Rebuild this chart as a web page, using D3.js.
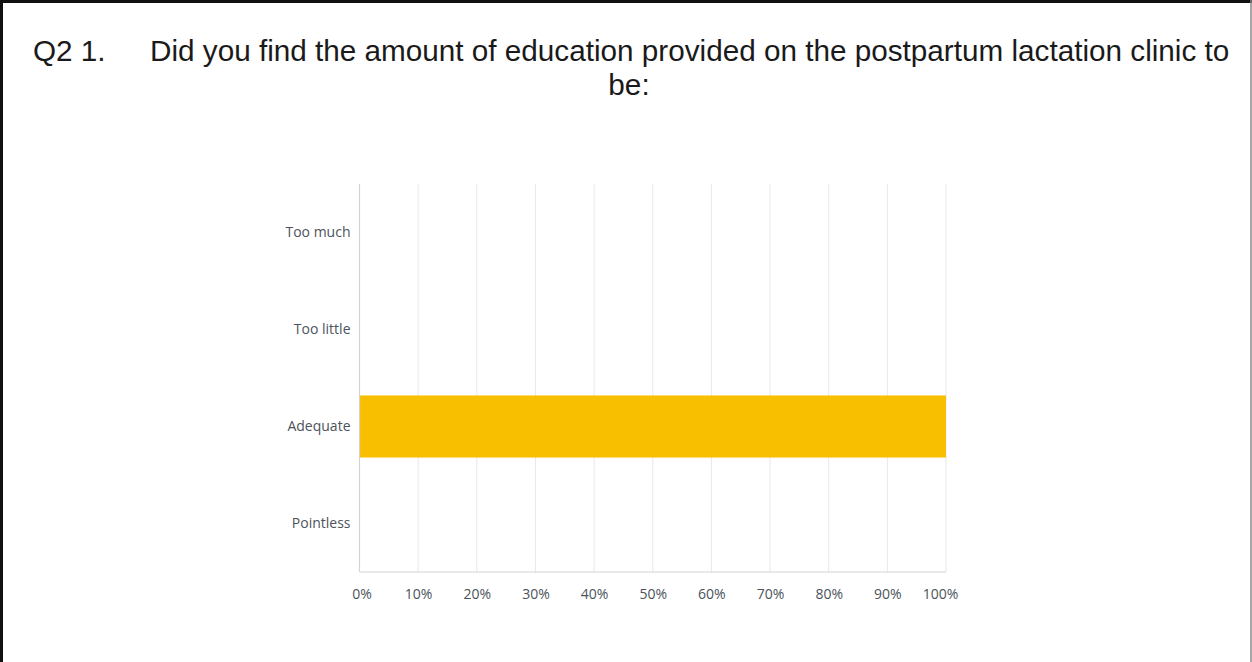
<!DOCTYPE html>
<html>
<head>
<meta charset="utf-8">
<script src="https://cdn.jsdelivr.net/npm/d3@7"></script>
<style>
  html, body { margin: 0; padding: 0; background: #fff; }
  svg { display: block; }
</style>
</head>
<body>
<svg id="chart" width="1252" height="662"></svg>
<script>
// Survey question and answer shares
const questionNumber = "Q2 1.";
const questionLines = ["Did you find the amount of education provided on the postpartum lactation clinic to", "be:"];
const categories = ["Too much", "Too little", "Adequate", "Pointless"];
const shares = [0, 0, 100, 0];
const tickValues = [0, 10, 20, 30, 40, 50, 60, 70, 80, 90, 100];

const svg = d3.select("#chart");
const W = 1252, H = 662;

// frame
svg.append("rect").attr("x", 0).attr("y", 0).attr("width", W).attr("height", H).attr("fill", "#fff");
svg.append("line").attr("x1", 1.5).attr("x2", 1.5).attr("y1", 0).attr("y2", H).attr("stroke", "#111").attr("stroke-width", 3);
svg.append("line").attr("x1", 0).attr("x2", W).attr("y1", 1.5).attr("y2", 1.5).attr("stroke", "#111").attr("stroke-width", 3);
svg.append("line").attr("x1", W - 1).attr("x2", W - 1).attr("y1", 0).attr("y2", H).attr("stroke", "#888").attr("stroke-width", 1.5);

// title
const titleFont = "'Liberation Sans', Arial, sans-serif";
const titleSize = 29.7;
svg.append("text")
  .attr("font-family", titleFont).attr("font-size", titleSize).attr("fill", "#1a1a1a")
  .attr("x", 33).attr("y", 61).text(questionNumber);
svg.append("text")
  .attr("font-family", titleFont).attr("font-size", titleSize).attr("fill", "#1a1a1a")
  .attr("x", 150).attr("y", 61).text(questionLines[0]);
svg.append("text")
  .attr("font-family", titleFont).attr("font-size", titleSize).attr("fill", "#1a1a1a")
  .attr("text-anchor", "middle")
  .attr("x", 629).attr("y", 95).text(questionLines[1]);

// plot area
const plotLeft = 359.5, plotRight = 946, plotTop = 184, plotBottom = 572;
const x = d3.scaleLinear().domain([0, 100]).range([plotLeft, plotRight]);
const y = d3.scaleBand().domain(categories).range([plotTop, plotBottom]).paddingInner(0.36).paddingOuter(0.18);

// gridlines
svg.append("g").selectAll("line").data(tickValues.slice(1)).join("line")
  .attr("x1", d => x(d)).attr("x2", d => x(d))
  .attr("y1", plotTop).attr("y2", plotBottom)
  .attr("stroke", "#e8e8e8").attr("stroke-width", 1);

// bars
svg.append("g").selectAll("rect").data(categories.map((c, i) => ({ c, v: shares[i] }))).join("rect")
  .attr("x", x(0))
  .attr("y", d => y(d.c))
  .attr("width", d => x(d.v) - x(0))
  .attr("height", y.bandwidth())
  .attr("fill", "#F8BE00");

// axis lines
svg.append("line").attr("x1", plotLeft).attr("x2", plotLeft).attr("y1", plotTop).attr("y2", plotBottom)
  .attr("stroke", "#d4d4d4").attr("stroke-width", 1.2);
svg.append("line").attr("x1", plotLeft).attr("x2", plotRight).attr("y1", plotBottom).attr("y2", plotBottom)
  .attr("stroke", "#d4d4d4").attr("stroke-width", 1.2);

// category labels
const labelFont = "'Open Sans', 'Noto Sans', sans-serif";
const yAxis = d3.axisLeft(y).tickSize(0).tickPadding(9);
const gy = svg.append("g").attr("transform", `translate(${plotLeft},0)`).call(yAxis);
gy.select(".domain").remove();
gy.selectAll("text")
  .attr("font-family", labelFont)
  .attr("font-size", 14)
  .attr("fill", "#4c535b");

// percentage labels
const xAxis = d3.axisBottom(x).tickValues(tickValues).tickSize(0).tickPadding(17).tickFormat(d => d + "%");
const gx = svg.append("g").attr("transform", `translate(0,${plotBottom})`).call(xAxis);
gx.select(".domain").remove();
gx.selectAll("text")
  .attr("font-family", labelFont)
  .attr("font-size", 14)
  .attr("fill", "#4c535b")
  .attr("dx", d => d === 0 ? 2 : (d === 100 ? -6 : 0));
</script>
</body>
</html>
